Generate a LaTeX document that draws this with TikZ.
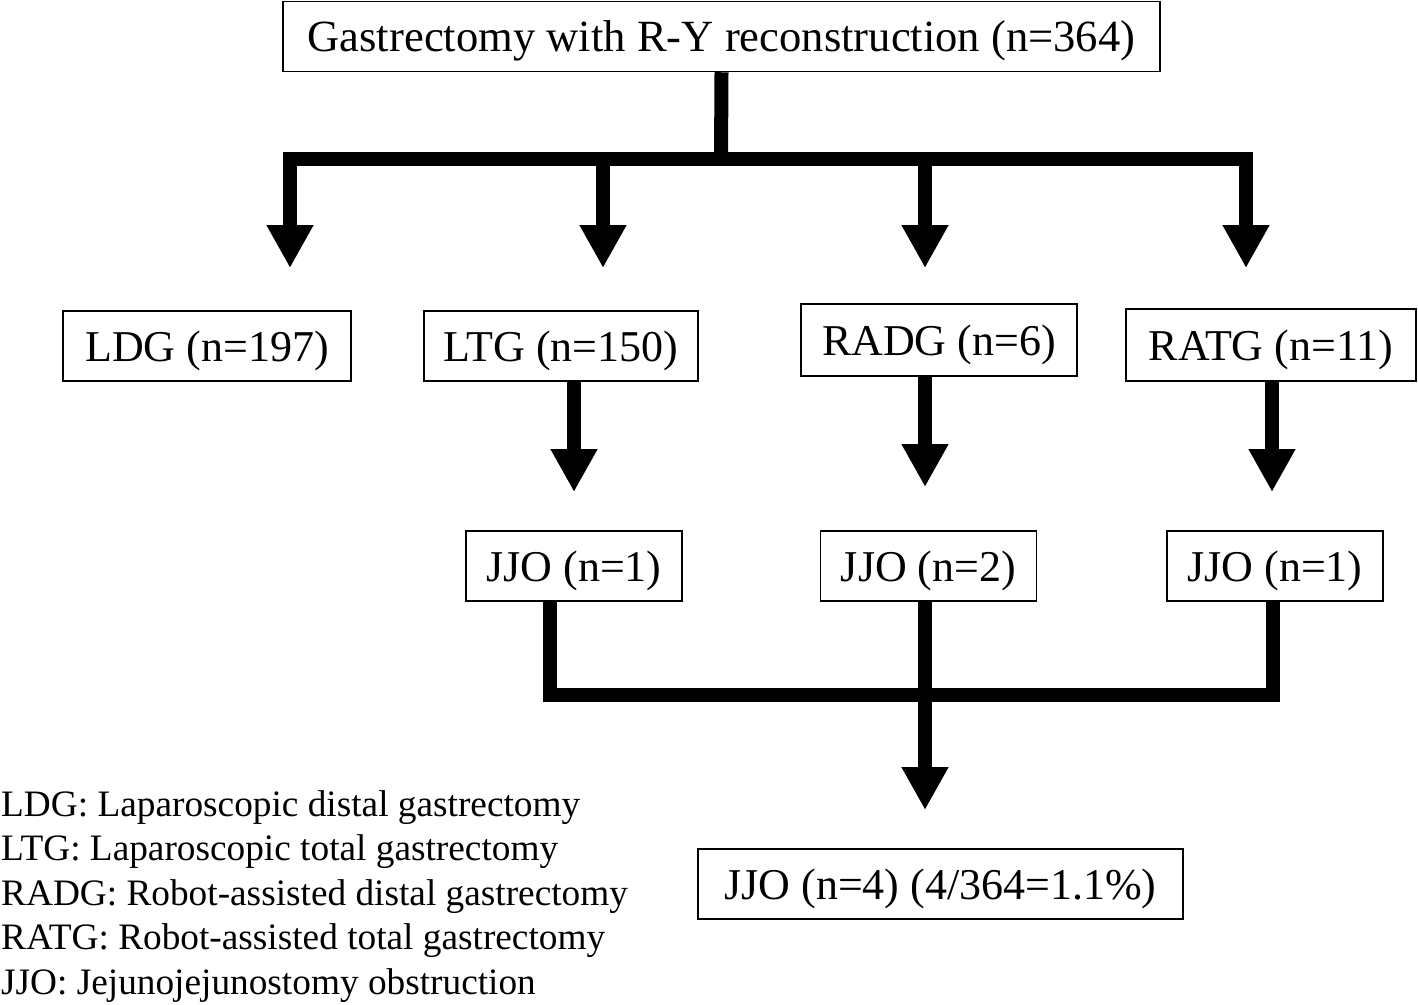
\documentclass[tikz,border=0pt]{standalone}
\usepackage{fontspec}
\setmainfont{Liberation Serif}
\usetikzlibrary{arrows.meta,positioning}
\tikzset{
  box/.style={draw,line width=1.5pt,inner sep=0pt,minimum height=70pt,
    text height=40pt,text depth=10pt,
    font=\fontsize{44}{50}\selectfont},
  bar/.style={line width=14pt,line join=miter},
  arr/.style={bar,-{Triangle[width=44pt,length=43pt]}},
  key/.style={font=\fontsize{37.3}{44.5}\selectfont,align=left,inner sep=0pt},
}

\begin{document}
\begin{tikzpicture}[x=1pt,y=-1pt]
  \useasboundingbox (0,0) rectangle (1418,1004);

  \node[box,minimum width=877pt,font=\fontsize{44.6}{50}\selectfont] (gast) at (721.5,36.5)
    {Gastrectomy with R-Y reconstruction (n=364)};

  \node[box,minimum width=288pt] (ldg) at (207,346) {LDG (n=197)};
  \node[box,minimum width=274pt] (ltg) at (561,346) {LTG (n=150)};
  \node[box,minimum width=276pt,minimum height=72pt] (radg) at (939,340) {RADG (n=6)};
  \node[box,minimum width=290pt,minimum height=72pt] (ratg) at (1271,345) {RATG (n=11)};

  \node[box,minimum width=216pt] (jjoa) at (574,566) {JJO (n=1)};
  \node[box,minimum width=216pt] (jjob) at (928.5,566) {JJO (n=2)};
  \node[box,minimum width=216pt] (jjoc) at (1275,566) {JJO (n=1)};

  \node[box,minimum width=485pt] (jjo) at (940.5,884) {JJO (n=4) (4/364=1.1\%)};

  \node[key,anchor=north west] (keys) at (1,790)
    {LDG: Laparoscopic distal gastrectomy\\
     LTG: Laparoscopic total gastrectomy\\
     RADG: Robot-assisted distal gastrectomy\\
     RATG: Robot-assisted total gastrectomy\\
     JJO: Jejunojejunostomy obstruction};

  % split of the whole series
  \coordinate (hub) at (721,159);
  \coordinate (tipa) at (290,268);
  \coordinate (tipb) at (603,268);
  \coordinate (tipc) at (925,268);
  \coordinate (tipd) at (1246,268);
  \draw[bar] (gast.south) -- (hub);
  \foreach \t in {tipa,tipb,tipc,tipd}
    \draw[arr] (hub) -| (\t);

  % cases per group
  \coordinate (tipe) at (574,492);
  \coordinate (tipf) at (925,487);
  \coordinate (tipg) at (1272,492);
  \draw[arr] (ltg.south -| tipe) -- (tipe);
  \draw[arr] (radg.south -| tipf) -- (tipf);
  \draw[arr] (ratg.south -| tipg) -- (tipg);

  % pooled cases
  \coordinate (la) at (550,695);
  \coordinate (lc) at (1273,695);
  \coordinate (tiph) at (925,810);
  \draw[bar] (jjoa.south -| la) -- (la) -- (lc) -- (jjoc.south -| lc);
  \draw[arr] (jjob.south -| tiph) -- (tiph);
\end{tikzpicture}
\end{document}
